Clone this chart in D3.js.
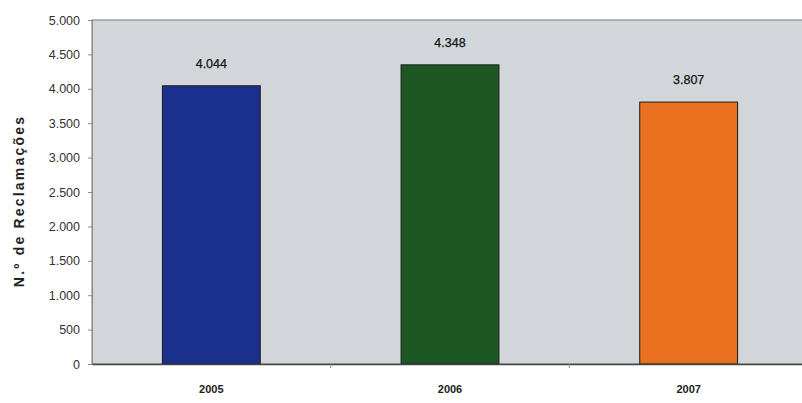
<!DOCTYPE html>
<html>
<head>
<meta charset="utf-8">
<script src="https://cdn.jsdelivr.net/npm/d3@7"></script>
<style>
  html, body { margin: 0; padding: 0; background: #ffffff; }
  #chart { width: 802px; height: 403px; overflow: hidden; }
  text { font-family: "Liberation Sans", Arial, sans-serif; }
</style>
</head>
<body>
<div id="chart"></div>
<script>
// Reclamações por ano
const years = ["2005", "2006", "2007"];
const complaints = [4044, 4348, 3807];
const barColors = ["#1b2f8c", "#1c5723", "#e9711f"];
const yTicks = [0, 500, 1000, 1500, 2000, 2500, 3000, 3500, 4000, 4500, 5000];
const yTitle = "N.º de Reclamações";

(function () {
  const width = 802;
  const height = 403;
  const margin = { top: 20, right: -6, bottom: 39, left: 92 };

  const ptLocale = d3.formatLocale({ decimal: ",", thousands: ".", grouping: [3], currency: ["", " €"] });
  const fmt = ptLocale.format(",d");

  const svg = d3.select("#chart")
    .append("svg")
    .attr("width", width)
    .attr("height", height);

  const x = d3.scaleBand()
    .domain(years)
    .range([margin.left, width - margin.right])
    .paddingInner(0.59)
    .paddingOuter(0.295);

  const y = d3.scaleLinear()
    .domain([0, 5000])
    .range([height - margin.bottom, margin.top]);

  // plot background
  svg.append("rect")
    .attr("x", margin.left)
    .attr("y", margin.top)
    .attr("width", width - margin.right - margin.left)
    .attr("height", y(0) - margin.top)
    .attr("fill", "#d2d6da")
    .attr("stroke", "#8a8c8e")
    .attr("stroke-width", 1.2);

  // y axis
  const yAxis = svg.append("g")
    .attr("transform", `translate(${margin.left},0)`)
    .call(d3.axisLeft(y).tickValues(yTicks).tickFormat(fmt).tickSize(4).tickPadding(8));
  yAxis.select(".domain").attr("stroke", "#8a8c8e");
  yAxis.selectAll(".tick line").attr("stroke", "#8a8c8e");
  yAxis.selectAll(".tick text")
    .attr("fill", "#333")
    .attr("font-size", 12.5);

  // bars
  svg.append("g")
    .selectAll("rect")
    .data(complaints)
    .join("rect")
    .attr("x", (d, i) => x(years[i]))
    .attr("y", (d) => y(d))
    .attr("width", x.bandwidth())
    .attr("height", (d) => y(0) - y(d))
    .attr("fill", (d, i) => barColors[i])
    .attr("stroke", "#1a1a1a")
    .attr("stroke-width", 1);

  // value labels
  svg.append("g")
    .selectAll("text")
    .data(complaints)
    .join("text")
    .attr("x", (d, i) => x(years[i]) + x.bandwidth() / 2)
    .attr("y", (d) => y(d) - 18)
    .attr("text-anchor", "middle")
    .attr("font-size", 12.5)
    .attr("fill", "#111")
    .attr("stroke", "#111")
    .attr("stroke-width", 0.25)
    .text((d) => fmt(d));

  // x axis
  const xAxis = svg.append("g")
    .attr("transform", `translate(0,${y(0)})`)
    .call(d3.axisBottom(x).tickSize(0).tickPadding(21));
  xAxis.select(".domain").attr("stroke", "#444").attr("stroke-width", 1.5);
  xAxis.selectAll(".tick text")
    .attr("fill", "#222")
    .attr("font-size", 11)
    .attr("font-weight", "bold");

  // category separators
  svg.append("g")
    .selectAll("line")
    .data(years.slice(1))
    .join("line")
    .attr("x1", (d) => x(d) - x.step() * x.paddingInner() / 2)
    .attr("x2", (d) => x(d) - x.step() * x.paddingInner() / 2)
    .attr("y1", y(0))
    .attr("y2", y(0) + 4)
    .attr("stroke", "#888");

  // y title
  svg.append("text")
    .attr("transform", `translate(24,${(margin.top + y(0)) / 2 + 9}) rotate(-90)`)
    .attr("text-anchor", "middle")
    .attr("font-size", 14)
    .attr("font-weight", "bold")
    .attr("letter-spacing", 2.2)
    .attr("fill", "#222")
    .text(yTitle);
})();
</script>
</body>
</html>
